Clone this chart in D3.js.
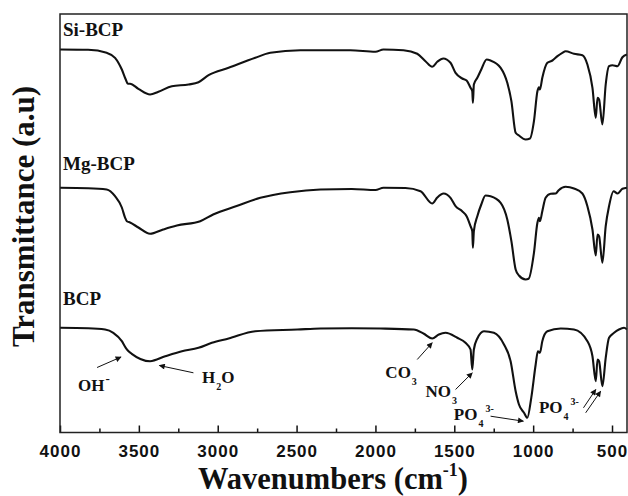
<!DOCTYPE html>
<html>
<head>
<meta charset="utf-8">
<script src="https://cdn.jsdelivr.net/npm/d3@7"></script>
<style>
  html, body { margin: 0; padding: 0; background: #fff; }
  svg { display: block; }
</style>
</head>
<body>
<svg id="chart" width="628" height="496"></svg>
<script>
// ---------- data (wavenumber cm-1, transmittance a.u. incl. vertical offset) ----------
const seriesNames = ["Si-BCP", "Mg-BCP", "BCP"];

const siBCP = [
  [4000,383],[3822,382.7],[3704,379.7],[3651,374.7],[3608,363],[3583,353],[3570,348.7],[3556,348.7],
  [3503,343.7],[3429,338],[3376,340.7],[3291,346.3],[3185,348],[3122,350.3],[3058,357.3],[2931,364.7],
  [2762,374.7],[2667,379.7],[2476,382.3],[2159,382.3],[2000,380.7],[1949,383],[1822,382.3],[1735,378.7],
  [1683,371.3],[1640,365.7],[1608,370.7],[1570,374],[1524,369.7],[1492,359.7],[1450,354],[1422,352],
  [1397,344.7],[1386,341.3],[1382,329.7],[1376,348],[1354,354.7],[1329,363],[1295,373],[1270,372],
  [1206,364.7],[1164,349.7],[1138,331.3],[1111,299.7],[1090,297],[1048,293],[1020,294],[995,311.3],
  [973,341.3],[963,345.3],[957,343],[942,354.7],[910,369.7],[878,372],[846,376.3],[815,379.7],
  [794,381.3],[741,378.7],[688,377.3],[656,368],[624,344.7],[603,314.7],[592,334.7],[582,333],
  [561,308],[540,348],[519,366.3],[497,367.3],[465,366.3],[434,375.3],[405,378]
];

const mgBCP = [
  [4000,244.7],[3822,244.3],[3704,243],[3651,236.3],[3608,225],[3587,214.7],[3576,211.3],[3556,210],
  [3503,205],[3429,198.7],[3346,203],[3259,207],[3111,211.3],[3029,218],[2880,226.5],[2730,234.7],
  [2540,240.3],[2349,243],[2150,243.5],[2000,242.5],[1949,244.7],[1810,244.5],[1714,241.3],[1640,229],
  [1608,235],[1568,239],[1524,234.7],[1492,226.3],[1450,221.3],[1422,216.3],[1397,206.3],[1386,201.3],
  [1382,184.7],[1376,201.3],[1354,216.3],[1329,228],[1302,237],[1270,236.3],[1206,229.7],[1164,213],
  [1138,191.3],[1111,163],[1090,157],[1048,153],[1029,153.7],[995,179.7],[973,209.7],[963,214.7],
  [957,211.3],[942,221.3],[921,234.7],[889,238.7],[857,239],[838,242.3],[794,245.7],[741,244],
  [688,239],[656,226.3],[624,203],[603,177],[592,198],[582,196.3],[561,169.7],[540,206.3],
  [519,226.3],[490,241.3],[465,239],[434,243.7],[405,244.7]
];

const bcp = [
  [4000,104.7],[3822,104.3],[3714,103],[3662,99.7],[3608,91.3],[3583,84.7],[3570,82],[3545,78.7],
  [3429,71.3],[3333,76.3],[3227,81.3],[3122,84.7],[3037,89.7],[2931,94],[2762,101.3],[2495,103],
  [2349,104],[2150,104.3],[1968,104],[1757,103],[1693,98.7],[1640,94],[1598,98],[1556,99.7],
  [1481,94.7],[1429,89.7],[1397,83],[1386,63],[1376,83],[1354,94],[1312,101.3],[1249,99.7],
  [1185,88],[1143,71.3],[1111,41.3],[1090,28],[1058,19.7],[1037,14.7],[1012,34.7],[984,68],
  [970,81.3],[957,79.7],[942,91.3],[910,101.3],[825,104],[741,103],[656,91.3],[624,76.3],
  [603,51.3],[592,73],[582,71.3],[561,46.3],[540,74.7],[519,94.7],[487,99.7],[456,103],
  [424,104.7],[405,103]
];

const seriesData = [siBCP, mgBCP, bcp];

const majorTicks = [4000, 3500, 3000, 2500, 2000, 1500, 1000, 500];
const minorTicks = [3750, 3250, 2750, 2250, 1750, 1250, 750];

// band annotations: label anchor (wn, value) and arrows [wnFrom, vFrom, wnTo, vTo]
const annotations = [
  {main: "OH", sub: "", sup: "-", at: [3886, 41.3], arrows: [[3765, 65, 3613, 75.5]]},
  {main: "H", sub: "2", tail: "O", sup: "", at: [3100, 49.7], arrows: [[3154, 59.7, 3370, 67]]},
  {main: "CO", sub: "3", sup: "", at: [1937, 54.7], arrows: [[1735, 73, 1640, 89.7]]},
  {main: "NO", sub: "3", sup: "", at: [1683, 35.2], arrows: [[1492, 43, 1386, 59.7]]},
  {main: "PO", sub: "4", sup: "3-", at: [1503, 12.5], arrows: [[1270, 16.3, 1062, 11.3]]},
  {main: "PO", sub: "4", sup: "3-", at: [963, 19.7], arrows: [[681, 24.7, 603, 43], [667, 19.7, 572, 41.3]]}
];

const labelPositions = [[3981, 396.5], [3981, 263], [3981, 128]];

// ---------- drawing ----------
const svg = d3.select("#chart");
const M = {left: 60, top: 14, right: 627, bottom: 432.5};

const x = d3.scaleLinear().domain([4000, 405]).range([M.left, M.right]);
const y = d3.scaleLinear().domain([0, 418.5]).range([M.bottom, M.top]);

const serif = "'Liberation Serif', 'Times New Roman', serif";
const sans = "'Liberation Sans', Arial, sans-serif";
const ink = "#111";

svg.append("defs").append("marker")
  .attr("id", "ah").attr("viewBox", "0 0 10 10").attr("refX", 9).attr("refY", 5)
  .attr("markerWidth", 7).attr("markerHeight", 6).attr("markerUnits", "userSpaceOnUse")
  .attr("orient", "auto")
  .append("path").attr("d", "M0,0 L10,5 L0,10 Z").attr("fill", ink);

// series lines
const line = d3.line().x(d => x(d[0])).y(d => y(d[1])).curve(d3.curveMonotoneX);
svg.append("g").selectAll("path").data(seriesData).join("path")
  .attr("d", line).attr("fill", "none").attr("stroke", ink)
  .attr("stroke-width", 2.1).attr("stroke-linejoin", "round");

// series labels
svg.append("g").selectAll("text").data(seriesNames).join("text")
  .attr("x", (d, i) => x(labelPositions[i][0]))
  .attr("y", (d, i) => y(labelPositions[i][1]))
  .attr("font-family", serif).attr("font-weight", "bold").attr("font-size", 19)
  .attr("fill", ink).text(d => d);

// annotations
const ag = svg.append("g");
annotations.forEach(a => {
  const t = ag.append("text").attr("x", x(a.at[0])).attr("y", y(a.at[1]))
    .attr("font-family", serif).attr("font-weight", "bold").attr("font-size", 17).attr("fill", ink);
  t.append("tspan").text(a.main);
  let shift = 0;
  if (a.sub) {
    t.append("tspan").attr("font-size", 10).attr("dx", 1).attr("dy", 7).text(a.sub);
    shift = 7;
  }
  if (a.tail) {
    t.append("tspan").attr("dy", -shift).text(a.tail);
    shift = 0;
  }
  if (a.sup) {
    t.append("tspan").attr("font-size", a.sup === "-" ? 13 : 10)
      .attr("dx", a.sub ? 2 : 1).attr("dy", -shift - 8).text(a.sup);
  }
  a.arrows.forEach(r => {
    ag.append("line").attr("x1", x(r[0])).attr("y1", y(r[1])).attr("x2", x(r[2])).attr("y2", y(r[3]))
      .attr("stroke", ink).attr("stroke-width", 1).attr("marker-end", "url(#ah)");
  });
});

// bottom axis: major and minor ticks pointing inward
const axMajor = d3.axisBottom(x).tickValues(majorTicks).tickSize(-7).tickPadding(12).tickFormat(d3.format("d"));
const gx = svg.append("g").attr("transform", `translate(0,${M.bottom})`).call(axMajor);
gx.select(".domain").remove();
gx.selectAll(".tick line").attr("stroke", ink).attr("stroke-width", 1.5);
gx.selectAll(".tick text").attr("font-family", sans).attr("font-weight", "bold")
  .attr("font-size", 17).attr("letter-spacing", "1px").attr("fill", ink);

const axMinor = d3.axisBottom(x).tickValues(minorTicks).tickSize(-4).tickFormat("");
const gm = svg.append("g").attr("transform", `translate(0,${M.bottom})`).call(axMinor);
gm.select(".domain").remove();
gm.selectAll(".tick line").attr("stroke", ink).attr("stroke-width", 1.5);

// frame
svg.append("rect").attr("x", M.left).attr("y", M.top)
  .attr("width", M.right - M.left).attr("height", M.bottom - M.top)
  .attr("fill", "none").attr("stroke", "#222").attr("stroke-width", 1.5);

// axis titles
const xt = svg.append("text").attr("x", 333).attr("y", 489).attr("text-anchor", "middle")
  .attr("font-family", serif).attr("font-weight", "bold").attr("font-size", 30.5).attr("fill", ink);
xt.append("tspan").text("Wavenumbers (cm");
xt.append("tspan").attr("font-size", 18).attr("dy", -13).text("-1");
xt.append("tspan").attr("dy", 13).text(")");

svg.append("text").attr("transform", "rotate(-90)")
  .attr("x", -216.5).attr("y", 34).attr("text-anchor", "middle")
  .attr("font-family", serif).attr("font-weight", "bold").attr("font-size", 31).attr("fill", ink)
  .text("Transmittance (a.u)");
</script>
</body>
</html>
